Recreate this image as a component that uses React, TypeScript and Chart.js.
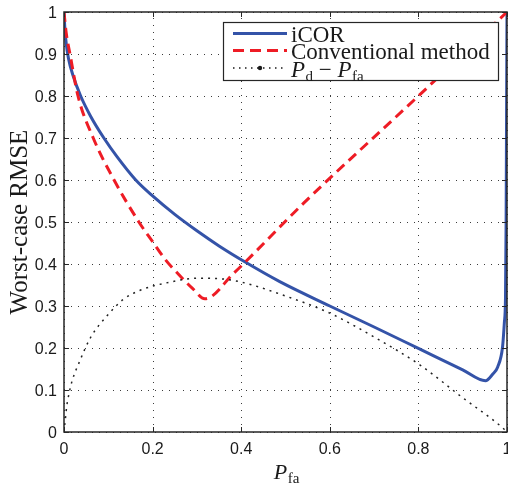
import React, { useEffect, useRef } from "react";
import { Chart, registerables } from "chart.js";

Chart.register(...registerables);

// ---- data ----
const icorX = [0, 0.002, 0.005, 0.01, 0.02, 0.0376, 0.06, 0.09, 0.12, 0.162, 0.2, 0.25, 0.3, 0.35, 0.41, 0.487, 0.6, 0.7, 0.8, 0.9, 0.9515, 0.968, 0.979, 0.99, 0.994, 0.9966, 0.998, 0.999, 1];
const icorY = [1, 0.96, 0.925, 0.89, 0.85, 0.8, 0.752, 0.7, 0.655, 0.6, 0.562, 0.518, 0.479, 0.443, 0.404, 0.358, 0.3, 0.25, 0.199, 0.148, 0.122, 0.138, 0.155, 0.203, 0.26, 0.32, 0.5, 0.75, 1];

const convX = [0, 0.005, 0.0135, 0.0316, 0.066, 0.113, 0.169, 0.2, 0.229, 0.259, 0.29, 0.318, 0.383, 0.541, 0.8, 1];
const convY = [1, 0.95, 0.9, 0.8, 0.7, 0.6, 0.5, 0.453, 0.41, 0.375, 0.342, 0.317, 0.378, 0.545, 0.8, 1.0];

const diffX = [0, 0.002, 0.004, 0.006, 0.009, 0.017, 0.036, 0.06, 0.1, 0.133, 0.171, 0.24, 0.3, 0.35, 0.4, 0.494, 0.6, 0.705, 0.803, 0.897, 0.988, 1];
const diffY = [0, 0.02, 0.04, 0.06, 0.079, 0.117, 0.17, 0.225, 0.28, 0.315, 0.337, 0.357, 0.366, 0.365, 0.357, 0.326, 0.283, 0.223, 0.16, 0.084, 0.012, 0];

const xTicks = [0, 0.2, 0.4, 0.6, 0.8, 1];
const xTickLabels = ["0", "0.2", "0.4", "0.6", "0.8", "1"];
const yTicks = [0, 0.1, 0.2, 0.3, 0.4, 0.5, 0.6, 0.7, 0.8, 0.9, 1];
const yTickLabels = ["0", "0.1", "0.2", "0.3", "0.4", "0.5", "0.6", "0.7", "0.8", "0.9", "1"];

const seriesNames = ["iCOR", "Conventional method"];
const yTitle = "Worst-case RMSE";

const BLUE = "#3453a8";
const RED = "#ee1c25";
const BLACK = "#1a1a1a";
const FRAME = "#262626";
const SERIF = "\"Liberation Serif\", \"DejaVu Serif\", serif";
const SANS = "\"Liberation Sans\", Arial, sans-serif";

const toPts = (xs: number[], ys: number[]) => xs.map((x, i) => ({ x, y: ys[i] }));

function drawPSub(ctx: CanvasRenderingContext2D, x: number, base: number, sub: string, big: number, small: number) {
  ctx.font = `italic ${big}px ${SERIF}`;
  ctx.fillText("P", x, base);
  const w1 = ctx.measureText("P").width;
  ctx.font = `${small}px ${SERIF}`;
  ctx.fillText(sub, x + w1 + 0.5, base + 4);
  const w2 = ctx.measureText(sub).width;
  return w1 + 0.5 + w2;
}
function measurePSub(ctx: CanvasRenderingContext2D, sub: string, big: number, small: number) {
  ctx.font = `italic ${big}px ${SERIF}`;
  const w1 = ctx.measureText("P").width;
  ctx.font = `${small}px ${SERIF}`;
  return w1 + 0.5 + ctx.measureText(sub).width;
}

const decor = {
  id: "decor",
  beforeDatasetsDraw(chart: any) {
    const { ctx, chartArea: a, scales } = chart;
    const x = scales.x, y = scales.y;
    ctx.save();
    ctx.strokeStyle = "#3c3c3c";
    ctx.lineWidth = 1;
    ctx.setLineDash([1, 6]);
    xTicks.forEach((v) => {
      const px = Math.round(x.getPixelForValue(v)) + 0.5;
      ctx.beginPath();
      ctx.moveTo(px, a.bottom);
      ctx.lineTo(px, a.top);
      ctx.stroke();
    });
    yTicks.forEach((v) => {
      const py = Math.round(y.getPixelForValue(v)) + 0.5;
      ctx.beginPath();
      ctx.moveTo(a.left, py);
      ctx.lineTo(a.right, py);
      ctx.stroke();
    });
    ctx.restore();
  },
  afterDatasetsDraw(chart: any) {
    const { ctx, chartArea: a, scales } = chart;
    const x = scales.x, y = scales.y;
    ctx.save();
    ctx.setLineDash([]);
    ctx.strokeStyle = FRAME;
    ctx.lineWidth = 1.5;
    ctx.strokeRect(a.left, a.top, a.right - a.left, a.bottom - a.top);
    const tl = 5;
    ctx.lineWidth = 1;
    xTicks.forEach((v) => {
      const px = Math.round(x.getPixelForValue(v)) + 0.5;
      ctx.beginPath();
      ctx.moveTo(px, a.bottom); ctx.lineTo(px, a.bottom - tl);
      ctx.moveTo(px, a.top); ctx.lineTo(px, a.top + tl);
      ctx.stroke();
    });
    yTicks.forEach((v) => {
      const py = Math.round(y.getPixelForValue(v)) + 0.5;
      ctx.beginPath();
      ctx.moveTo(a.left, py); ctx.lineTo(a.left + tl, py);
      ctx.moveTo(a.right, py); ctx.lineTo(a.right - tl, py);
      ctx.stroke();
    });
    ctx.fillStyle = "#1a1a1a";
    ctx.font = `16px ${SANS}`;
    ctx.textAlign = "center";
    ctx.textBaseline = "alphabetic";
    xTicks.forEach((v, i) => {
      ctx.fillText(xTickLabels[i], x.getPixelForValue(v), a.bottom + 22);
    });
    ctx.textAlign = "right";
    yTicks.forEach((v, i) => {
      ctx.fillText(yTickLabels[i], a.left - 7, y.getPixelForValue(v) + 6);
    });
    ctx.save();
    ctx.translate(27, (a.top + a.bottom) / 2);
    ctx.rotate(-Math.PI / 2);
    ctx.textAlign = "center";
    ctx.textBaseline = "alphabetic";
    ctx.font = `25px ${SERIF}`;
    ctx.fillText(yTitle, 0, 0);
    ctx.restore();
    ctx.textAlign = "left";
    ctx.textBaseline = "alphabetic";
    const wx = measurePSub(ctx, "fa", 22, 15);
    drawPSub(ctx, (a.left + a.right) / 2 + 1 - wx / 2, 479, "fa", 22, 15);

    // legend
    const lx = 223.5, ly = 22.5, lw = 275, lh = 58;
    ctx.fillStyle = "#ffffff";
    ctx.fillRect(lx, ly, lw, lh);
    ctx.strokeStyle = FRAME;
    ctx.lineWidth = 1.2;
    ctx.strokeRect(lx, ly, lw, lh);
    const sx0 = 233, sx1 = 287, tx = 291;
    const rows = [33.5, 50.5, 68];
    ctx.strokeStyle = BLUE; ctx.lineWidth = 3; ctx.setLineDash([]);
    ctx.beginPath(); ctx.moveTo(sx0, rows[0]); ctx.lineTo(sx1, rows[0]); ctx.stroke();
    ctx.strokeStyle = RED; ctx.setLineDash([11, 6]);
    ctx.beginPath(); ctx.moveTo(sx0, rows[1]); ctx.lineTo(sx1, rows[1]); ctx.stroke();
    ctx.strokeStyle = BLACK; ctx.lineWidth = 1.4; ctx.setLineDash([1.5, 4.5]);
    ctx.beginPath(); ctx.moveTo(sx0, rows[2]); ctx.lineTo(sx1, rows[2]); ctx.stroke();
    ctx.setLineDash([]);
    ctx.fillStyle = BLACK;
    ctx.beginPath(); ctx.arc((sx0 + sx1) / 2, rows[2], 2.2, 0, Math.PI * 2); ctx.fill();
    ctx.fillStyle = "#1a1a1a";
    ctx.font = `23px ${SERIF}`;
    ctx.fillText(seriesNames[0], tx, rows[0] + 8.5);
    ctx.fillText(seriesNames[1], tx, rows[1] + 8);
    let cx = tx;
    const base3 = rows[2] + 8.5;
    cx += drawPSub(ctx, cx, base3, "d", 23, 15);
    ctx.font = `23px ${SERIF}`;
    ctx.fillText(" \u2212 ", cx, base3);
    cx += ctx.measureText(" \u2212 ").width;
    drawPSub(ctx, cx, base3, "fa", 23, 15);
    ctx.restore();
  },
};

export default function App() {
  const ref = useRef<HTMLCanvasElement | null>(null);
  useEffect(() => {
    document.body.style.margin = "0";
    const canvas = ref.current!;
    const chart = new Chart(canvas, {
      type: "line",
      data: {
        datasets: [
          {
            label: seriesNames[0],
            data: toPts(icorX, icorY),
            borderColor: BLUE,
            borderWidth: 3,
            pointRadius: 0,
            cubicInterpolationMode: "monotone",
            order: 2,
          },
          {
            label: seriesNames[1],
            data: toPts(convX, convY),
            borderColor: RED,
            borderWidth: 3,
            borderDash: [10, 6],
            pointRadius: 0,
            cubicInterpolationMode: "monotone",
            order: 1,
          },
          {
            label: "Pd - Pfa",
            data: toPts(diffX, diffY),
            borderColor: "#222222",
            borderWidth: 1.5,
            borderDash: [2, 5],
            pointRadius: 0,
            cubicInterpolationMode: "monotone",
            order: 0,
          },
        ],
      } as any,
      options: {
        animation: false,
        responsive: false,
        devicePixelRatio: 1,
        layout: { padding: { top: 12, right: 1, left: 0, bottom: 0 } },
        plugins: { legend: { display: false }, tooltip: { enabled: false } },
        scales: {
          x: {
            type: "linear", min: 0, max: 1,
            grid: { display: false }, border: { display: false }, ticks: { display: false },
            afterFit: (s: any) => { s.height = 52; },
          },
          y: {
            type: "linear", min: 0, max: 1,
            grid: { display: false }, border: { display: false }, ticks: { display: false },
            afterFit: (s: any) => { s.width = 64; },
          },
        },
      } as any,
      plugins: [decor],
    });
    let alive = true;
    const fonts: any = (document as any).fonts;
    if (fonts && fonts.load) {
      Promise.all([
        fonts.load(`23px "Liberation Serif"`),
        fonts.load(`italic 23px "Liberation Serif"`),
        fonts.load(`16px "Liberation Sans"`),
      ]).then(() => { if (alive) chart.draw(); }).catch(() => {});
    }
    return () => { alive = false; chart.destroy(); };
  }, []);
  return <canvas ref={ref} width={508} height={484} style={{ display: "block" }} />;
}
